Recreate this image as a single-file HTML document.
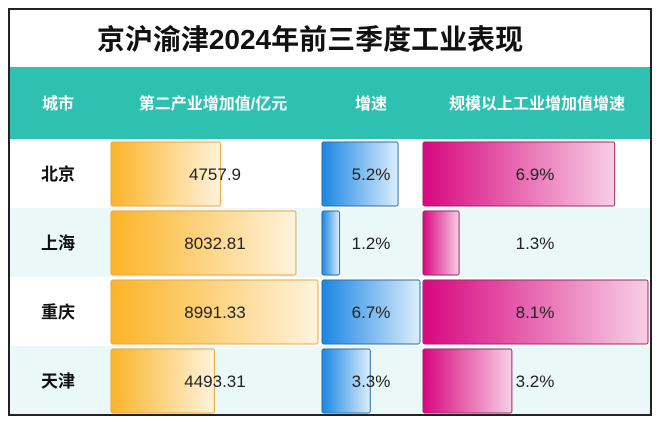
<!DOCTYPE html>
<html><head><meta charset="utf-8"><style>
body{margin:0;background:#fff;font-family:"Liberation Sans","Noto Sans CJK SC",sans-serif}
svg{display:block}
</style></head><body>
<svg id="c" width="660" height="425" xmlns="http://www.w3.org/2000/svg">
<defs>
<linearGradient id="gO" x1="0" x2="1"><stop offset="0" stop-color="#fbb427"/><stop offset="1" stop-color="#fff3dc"/></linearGradient>
<linearGradient id="gB" x1="0" x2="1"><stop offset="0" stop-color="#1a86e3"/><stop offset="1" stop-color="#dcedfb"/></linearGradient>
<linearGradient id="gM" x1="0" x2="1"><stop offset="0" stop-color="#d8077f"/><stop offset="1" stop-color="#f7cfe5"/></linearGradient>
</defs>
<rect x="0" y="0" width="660" height="425" fill="#fff"/>
<text x="310" y="49" text-anchor="middle" font-size="28" font-weight="bold" fill="#111">京沪渝津2024年前三季度工业表现</text>
<rect x="9" y="67" width="642" height="72" fill="#2ec0b0"/>
<g font-size="16" font-weight="bold" fill="#fff" text-anchor="middle">
<text x="58" y="109">城市</text>
<text x="213" y="109">第二产业增加值/亿元</text>
<text x="371" y="109">增速</text>
<text x="537" y="109">规模以上工业增加值增速</text>
</g>
<g id="rows"></g>
<rect x="9" y="9" width="642" height="406" fill="none" stroke="#222" stroke-width="2"/>
</svg>
<script>
const cities=["北京","上海","重庆","天津"];
const gdpValues=[4757.9,8032.81,8991.33,4493.31];
const gdpLabels=["4757.9","8032.81","8991.33","4493.31"];
const growthValues=[5.2,1.2,6.7,3.3];
const industryValues=[6.9,1.3,8.1,3.2];
const NS="http://www.w3.org/2000/svg";
const g=document.getElementById('rows');
const rowY=i=>139+i*69;
const sGdp=v=>v/8991.33*207;
const sGr=v=>v/6.7*98;
const sInd=v=>v/8.1*225;
function mk(t,a){const e=document.createElementNS(NS,t);for(const k in a)e.setAttribute(k,a[k]);g.appendChild(e);return e;}
cities.forEach((c,i)=>{
 const y=rowY(i);
 const bg=mk('rect',{x:9,y:y,width:642,height:69,fill:i%2?'#eaf8f8':'#fff'});
 
 
 const cl=mk('text',{x:58,y:y+41,'text-anchor':'middle','font-size':17,'font-weight':'bold',fill:'#111'});cl.textContent=c;
 
 
 const b1=mk('rect',{x:111,y:y+3,width:sGdp(gdpValues[i]),height:64,fill:'url(#gO)',stroke:'#e8a93a','stroke-width':1,rx:2});
 
 
 const b2=mk('rect',{x:322,y:y+3,width:sGr(growthValues[i]),height:64,fill:'url(#gB)',stroke:'#2a6fa8','stroke-width':1,rx:2});
 
 
 const b3=mk('rect',{x:423,y:y+3,width:sInd(industryValues[i]),height:64,fill:'url(#gM)',stroke:'#9a2a66','stroke-width':1,rx:2});
 
 
 const t1=mk('text',{x:215,y:y+41,'text-anchor':'middle','font-size':17,fill:'#222'});t1.textContent=gdpLabels[i];
 
 
 const t2=mk('text',{x:371,y:y+41,'text-anchor':'middle','font-size':17,fill:'#222'});t2.textContent=growthValues[i].toFixed(1)+'%';
 
 
 const t3=mk('text',{x:535,y:y+41,'text-anchor':'middle','font-size':17,fill:'#222'});t3.textContent=industryValues[i].toFixed(1)+'%';
 
 
});
</script>
</body></html>
